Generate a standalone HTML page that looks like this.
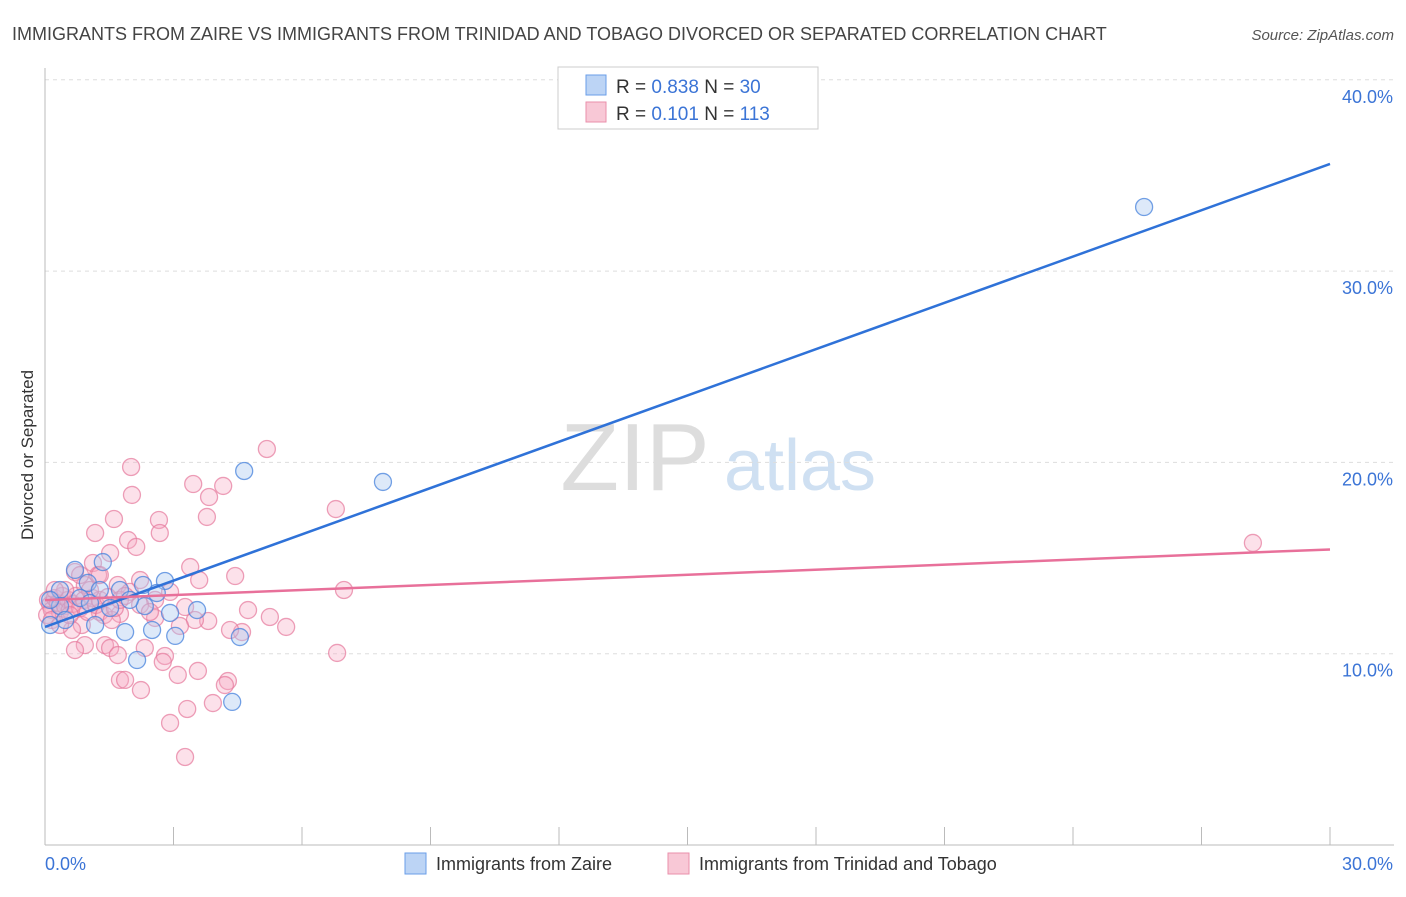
<!DOCTYPE html>
<html><head><meta charset="utf-8"><style>
body{margin:0;background:#fff;font-family:"Liberation Sans",sans-serif}
svg text{font-family:"Liberation Sans",sans-serif}
</style></head><body>
<svg id="chart" width="1406" height="892" viewBox="0 0 1406 892" xmlns="http://www.w3.org/2000/svg">
<text x="12" y="40" font-size="18" fill="#444">IMMIGRANTS FROM ZAIRE VS IMMIGRANTS FROM TRINIDAD AND TOBAGO DIVORCED OR SEPARATED CORRELATION CHART</text>
<text x="1394" y="40" font-size="15" fill="#555" font-style="italic" text-anchor="end">Source: ZipAtlas.com</text>
<text transform="translate(33,455) rotate(-90)" font-size="17" fill="#333" text-anchor="middle">Divorced or Separated</text>
<g>
<text x="635" y="490" font-size="96" fill="#ddd" font-family="Liberation Serif" text-anchor="middle">ZIP</text>
<text x="800" y="490" font-size="72" fill="#cfe0f2" text-anchor="middle">atlas</text>
</g>
<g id="grid"></g><g id="axes"></g>
<g id="pinkpts"></g><g id="bluepts"></g><g id="lines"></g>
<g>
<rect x="558" y="67" width="260" height="62" fill="#fff" stroke="#ccc"/>
<rect x="586" y="75" width="20" height="20" fill="#bcd4f5" stroke="#6a9ee8"/>
<rect x="586" y="102" width="20" height="20" fill="#f8c8d6" stroke="#ea8fab"/>
<text x="616" y="93" font-size="19" fill="#333">R = <tspan fill="#3b74d6">0.838</tspan>    N = <tspan fill="#3b74d6">30</tspan></text>
<text x="616" y="120" font-size="19" fill="#333">R =  <tspan fill="#3b74d6">0.101</tspan>    N = <tspan fill="#3b74d6">113</tspan></text>
</g>
<g>
<rect x="405" y="853" width="21" height="21" fill="#bcd4f5" stroke="#6a9ee8"/>
<text x="436" y="870" font-size="18" fill="#333">Immigrants from Zaire</text>
<rect x="668" y="853" width="21" height="21" fill="#f8c8d6" stroke="#ea8fab"/>
<text x="699" y="870" font-size="18" fill="#333">Immigrants from Trinidad and Tobago</text>
</g>
</svg>
<script>
const yTicks=[10,20,30,40];
const xTickLabels=["0.0%","30.0%"];
const blueX=[25.66,4.65,7.89,0.70,1.35,0.35,1.00,1.75,2.29,2.80,2.61,3.55,1.87,2.50,3.04,4.55,2.15,4.37,0.35,0.12,1.52,0.82,1.17,2.33,2.92,0.47,1.05,1.28,1.98,0.12];
const blueY=[33.35,19.55,18.98,14.38,14.79,13.33,13.70,13.33,13.59,13.80,13.17,12.28,11.13,11.24,10.93,10.87,9.67,7.48,12.49,12.81,12.39,12.91,11.50,12.49,12.13,11.76,12.65,13.33,12.81,11.50];
const pinkX=[28.2,5.18,2.01,2.03,3.46,4.16,3.83,3.78,6.79,1.61,2.66,2.68,1.17,1.94,2.13,1.52,1.12,3.39,3.60,4.44,6.98,0.70,1.24,1.70,1.98,2.92,2.57,3.27,4.74,5.25,5.63,3.81,3.50,3.15,2.57,1.75,1.28,0.86,0.63,0.93,0.70,1.40,1.52,1.70,2.33,2.80,2.75,3.10,3.57,1.75,1.87,2.24,4.27,4.20,3.92,3.32,2.92,3.27,6.82,4.60,4.32,
0.07,0.12,0.16,0.23,0.30,0.35,0.40,0.47,0.54,0.58,0.65,0.72,0.82,0.91,1.00,1.10,1.19,1.28,1.38,1.47,1.56,1.63,1.75,1.87,2.22,2.45,2.22,1.28,0.93,0.47,0.23,0.05,0.16,0.35,0.58,0.82,1.05];
const pinkY=[15.79,20.70,19.76,18.30,18.87,18.77,18.19,17.15,17.56,17.04,16.99,16.31,16.31,15.94,15.58,15.26,14.74,14.53,13.85,14.06,13.33,14.27,14.11,13.59,13.23,13.23,12.81,12.44,12.28,11.92,11.40,11.71,11.76,11.45,11.87,12.08,12.18,11.50,11.24,10.45,10.19,10.45,10.30,9.93,10.30,9.88,9.57,8.89,9.10,8.63,8.63,8.10,8.57,8.36,7.42,7.11,6.38,4.60,10.04,11.13,11.24,
12.81,12.55,12.28,12.91,12.65,12.18,13.02,12.49,12.81,12.28,12.60,13.02,12.39,12.81,12.18,12.91,12.55,12.81,12.02,12.96,11.76,12.39,12.81,13.02,12.55,12.18,13.85,14.11,13.59,13.33,13.33,12.02,11.76,11.50,12.02,14.11,13.33];
const blueFit=[11.4,35.6];
const pinkFit=[12.8,15.45];
const NS="http://www.w3.org/2000/svg";
const X0=45,X1=1330,Y0=845,PY=19.13;
function sx(v){return X0+v/30*(X1-X0);}
function sy(v){return Y0-v*PY;}
function mk(t,a,p){const e=document.createElementNS(NS,t);for(const k in a)e.setAttribute(k,a[k]);document.getElementById(p).appendChild(e);return e;}
yTicks.forEach(t=>{
 const l=mk('line',{x1:X0,x2:1394,y1:sy(t),y2:sy(t),stroke:'#ddd','stroke-dasharray':'4,4'},'grid');
 
 
 const tx=mk('text',{x:1393,y:sy(t)+23,'font-size':18,fill:'#3b74d6','text-anchor':'end'},'grid');
 tx.textContent=t.toFixed(1)+'%';
 
 
});
const ax=mk('line',{x1:X0,x2:X0,y1:68,y2:Y0,stroke:'#bbb'},'axes');


const bx=mk('line',{x1:X0,x2:1394,y1:Y0,y2:Y0,stroke:'#bbb'},'axes');


for(let i=1;i<=10;i++){const t=mk('line',{x1:sx(i*3),x2:sx(i*3),y1:Y0,y2:Y0-18,stroke:'#bbb'},'axes');
 
 }
[[0,'start',45],[30,'end',1393]].forEach((d,i)=>{const t=mk('text',{x:d[2],y:870,'font-size':18,fill:'#3b74d6','text-anchor':d[1]},'axes');t.textContent=xTickLabels[i];
 
 });
pinkX.forEach((v,i)=>{const c=mk('circle',{cx:sx(v),cy:sy(pinkY[i]),r:8.5,fill:'rgba(245,170,195,0.35)',stroke:'rgba(230,120,155,0.7)','stroke-width':1.3},'pinkpts');
 
 });
blueX.forEach((v,i)=>{const c=mk('circle',{cx:sx(v),cy:sy(blueY[i]),r:8.5,fill:'rgba(170,200,240,0.4)',stroke:'rgba(70,130,220,0.75)','stroke-width':1.3},'bluepts');
 
 });
const bl=mk('line',{x1:sx(0),y1:sy(blueFit[0]),x2:sx(30),y2:sy(blueFit[1]),stroke:'#2f72d8','stroke-width':2.5},'lines');


const pl=mk('line',{x1:sx(0),y1:sy(pinkFit[0]),x2:sx(30),y2:sy(pinkFit[1]),stroke:'#e8709a','stroke-width':2.5},'lines');


</script>
</body></html>
